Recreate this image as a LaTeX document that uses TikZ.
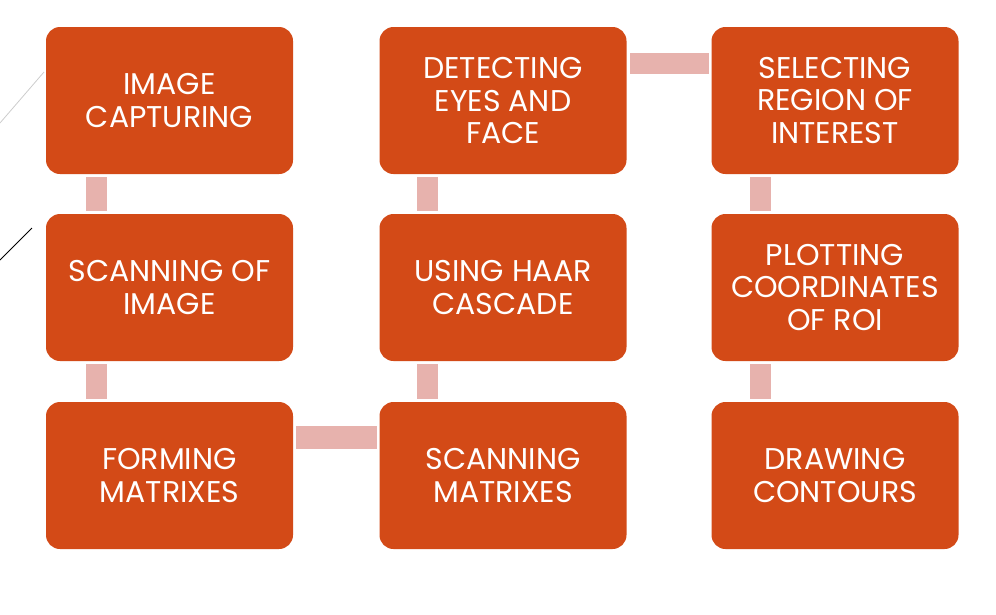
\documentclass[tikz,border=0pt]{standalone}
\usepackage{fontspec}
\setmainfont{Poppins}
\definecolor{boxc}{HTML}{D34A17}
\definecolor{linkc}{HTML}{E7B2AD}
\begin{document}
\begin{tikzpicture}[x=1pt,y=-1pt,
  stepbox/.style={fill=boxc,rounded corners=14pt,minimum width=247pt,minimum height=147pt,
    text=white,align=center,font=\fontsize{30}{32.5}\selectfont,inner sep=0pt},
  linkbar/.style={fill=linkc}]
\useasboundingbox (0,0) rectangle (996,614);
\node[stepbox] (a1) at (169.5,100.5) {IMAGE\\CAPTURING};
\node[stepbox] (a2) at (169.5,287.5) {SCANNING OF\\IMAGE};
\node[stepbox] (a3) at (169.5,475.5) {FORMING\\MATRIXES};
\node[stepbox] (b1) at (503,100.5) {DETECTING\\EYES AND\\FACE};
\node[stepbox] (b2) at (503,287.5) {USING HAAR\\CASCADE};
\node[stepbox] (b3) at (503,475.5) {SCANNING\\MATRIXES};
\node[stepbox] (c1) at (835,100.5) {SELECTING\\REGION OF\\INTEREST};
\node[stepbox] (c2) at (835,287.5) {PLOTTING\\COORDINATES\\OF ROI};
\node[stepbox] (c3) at (835,475.5) {DRAWING\\CONTOURS};
\fill[linkc] (86,177) rectangle (107,211);
\fill[linkc] (86,364) rectangle (107,399);
\fill[linkc] (417,177) rectangle (438,211);
\fill[linkc] (417,364) rectangle (438,399);
\fill[linkc] (750,177) rectangle (771,211);
\fill[linkc] (750,364) rectangle (771,399);
\fill[linkc] (296,426) rectangle (377,449);
\fill[linkc] (630,53) rectangle (709,74);
\coordinate (l1a) at (0,123); \coordinate (l1b) at (44,72);
\coordinate (l2a) at (0,260); \coordinate (l2b) at (32,228);
\draw[gray!40,line width=0.8pt] (l1a) -- (l1b);
\draw[black,line width=0.8pt] (l2a) -- (l2b);
\end{tikzpicture}
\end{document}
